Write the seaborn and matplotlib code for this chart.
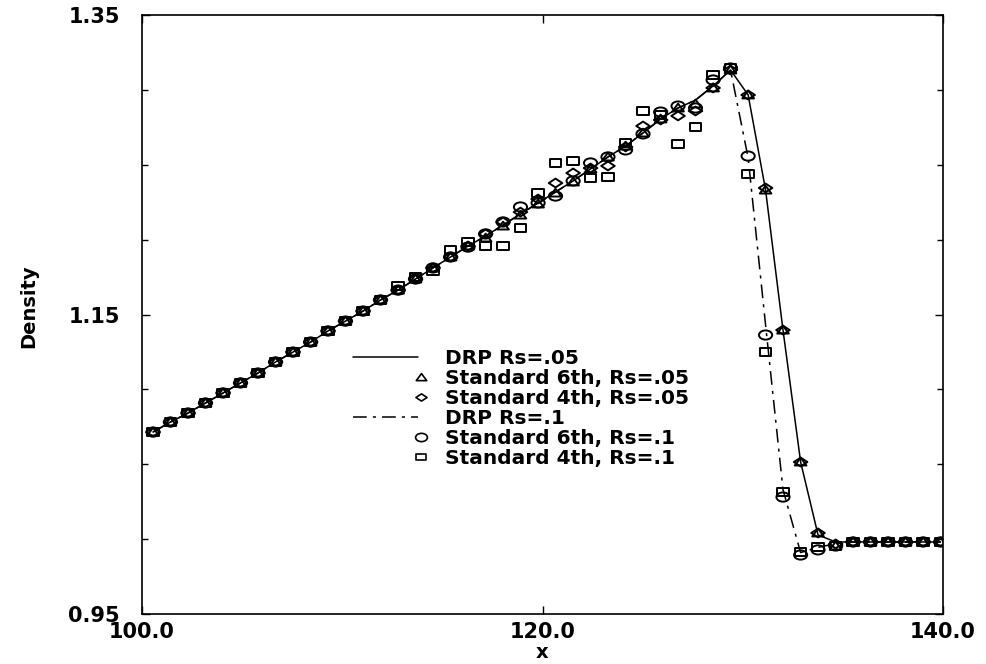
import numpy as np
import pandas as pd
import matplotlib
matplotlib.use("Agg")
import matplotlib.pyplot as plt
import seaborn as sns
from matplotlib.path import Path
from matplotlib.lines import Line2D
from matplotlib.legend_handler import HandlerLine2D
from matplotlib.ticker import FixedLocator, MultipleLocator, FormatStrFormatter

# ---- data -------------------------------------------------------------
x = [100.55, 101.42, 102.30, 103.17, 104.05, 104.92, 105.79, 106.67, 107.54, 108.42,
     109.29, 110.16, 111.04, 111.91, 112.79, 113.66, 114.53, 115.41, 116.28, 117.16,
     118.03, 118.90, 119.78, 120.65, 121.53, 122.40, 123.27, 124.15, 125.02, 125.90,
     126.77, 127.64, 128.52, 129.39, 130.27, 131.14, 132.01, 132.89, 133.76, 134.64,
     135.51, 136.38, 137.26, 138.13, 139.01, 139.88]

drp_rs05 = [1.0715, 1.0782, 1.0842, 1.0909, 1.0976, 1.1043, 1.1109, 1.1183, 1.1249, 1.1316,
            1.1390, 1.1456, 1.1523, 1.1597, 1.1663, 1.1737, 1.1811, 1.1884, 1.1957, 1.2024,
            1.2098, 1.2171, 1.2245, 1.2318, 1.2392, 1.2472, 1.2552, 1.2625, 1.2712, 1.2806,
            1.2879, 1.2932, 1.3026, 1.3133, 1.2966, 1.2331, 1.1396, 1.0515, 1.0028, 0.9981,
            0.9981, 0.9981, 0.9981, 0.9981, 0.9981, 0.9981]

std6_rs05 = [1.0715, 1.0782, 1.0842, 1.0909, 1.0976, 1.1043, 1.1109, 1.1183, 1.1249, 1.1316,
             1.1390, 1.1456, 1.1523, 1.1597, 1.1663, 1.1737, 1.1811, 1.1884, 1.1957, 1.2011,
             1.2091, 1.2164, 1.2238, 1.2311, 1.2385, 1.2472, 1.2552, 1.2625, 1.2712, 1.2806,
             1.2879, 1.2906, 1.3013, 1.3133, 1.2966, 1.2331, 1.1396, 1.0515, 1.0041, 0.9954,
             0.9981, 0.9981, 0.9981, 0.9981, 0.9981, 0.9981]

std4_rs05 = [1.0715, 1.0782, 1.0842, 1.0909, 1.0976, 1.1043, 1.1109, 1.1183, 1.1249, 1.1316,
             1.1390, 1.1456, 1.1523, 1.1597, 1.1663, 1.1737, 1.1811, 1.1884, 1.1957, 1.2038,
             1.2118, 1.2184, 1.2271, 1.2378, 1.2445, 1.2478, 1.2492, 1.2619, 1.2759, 1.2799,
             1.2826, 1.2859, 1.3013, 1.3133, 1.2966, 1.2345, 1.1396, 1.0515, 1.0041, 0.9968,
             0.9981, 0.9981, 0.9981, 0.9981, 0.9981, 0.9981]

drp_rs1 = [1.0715, 1.0782, 1.0842, 1.0909, 1.0976, 1.1043, 1.1109, 1.1183, 1.1249, 1.1316,
           1.1390, 1.1456, 1.1523, 1.1597, 1.1663, 1.1737, 1.1811, 1.1884, 1.1957, 1.2024,
           1.2098, 1.2171, 1.2245, 1.2318, 1.2392, 1.2472, 1.2552, 1.2625, 1.2712, 1.2806,
           1.2879, 1.2932, 1.3026, 1.3133, 1.2545, 1.1430, 1.0330, 0.9910, 0.9945, 0.9970,
           0.9981, 0.9981, 0.9981, 0.9981, 0.9981, 0.9981]

std6_rs1 = [1.0715, 1.0782, 1.0842, 1.0909, 1.0976, 1.1043, 1.1109, 1.1183, 1.1249, 1.1316,
            1.1390, 1.1456, 1.1523, 1.1597, 1.1663, 1.1737, 1.1811, 1.1884, 1.1950, 1.2038,
            1.2118, 1.2218, 1.2245, 1.2291, 1.2392, 1.2512, 1.2552, 1.2599, 1.2706, 1.2852,
            1.2892, 1.2879, 1.3066, 1.3146, 1.2558, 1.1363, 1.0281, 0.9894, 0.9928, 0.9954,
            0.9981, 0.9981, 0.9981, 0.9981, 0.9981, 0.9981]

std4_rs1 = [1.0715, 1.0782, 1.0842, 1.0909, 1.0976, 1.1043, 1.1109, 1.1183, 1.1249, 1.1316,
            1.1390, 1.1456, 1.1523, 1.1597, 1.1690, 1.1750, 1.1790, 1.1931, 1.1984, 1.1957,
            1.1957, 1.2078, 1.2312, 1.2512, 1.2525, 1.2412, 1.2418, 1.2645, 1.2859, 1.2832,
            1.2639, 1.2752, 1.3099, 1.3146, 1.2438, 1.1250, 1.0315, 0.9914, 0.9948, 0.9954,
            0.9981, 0.9981, 0.9981, 0.9981, 0.9981, 0.9981]

labels = ["DRP Rs=.05", "Standard 6th, Rs=.05", "Standard 4th, Rs=.05",
          "DRP Rs=.1", "Standard 6th, Rs=.1", "Standard 4th, Rs=.1"]

x_ticks = [100.0, 120.0, 140.0]
y_ticks = [0.95, 1.15, 1.35]

df = pd.DataFrame({"x": x, "drp05": drp_rs05, "s6_05": std6_rs05, "s4_05": std4_rs05,
                   "drp1": drp_rs1, "s6_1": std6_rs1, "s4_1": std4_rs1})

# ---- style ------------------------------------------------------------
sns.set_theme(style="ticks")
plt.rcParams["font.family"] = ["DejaVu Sans"]
for key in ["axes.edgecolor", "xtick.color", "ytick.color", "text.color",
            "axes.labelcolor"]:
    plt.rcParams[key] = "black"


def polygon_marker(verts):
    """Closed polygon marker path."""
    v = np.asarray(verts, float)
    v = np.vstack([v, v[:1]])
    codes = [Path.MOVETO] + [Path.LINETO] * (len(v) - 2) + [Path.CLOSEPOLY]
    return Path(v, codes)


tri_m = polygon_marker([(-1, -0.6), (1, -0.6), (0, 0.75)])
dia_m = polygon_marker([(-1, 0), (0, 0.65), (1, 0), (0, -0.65)])
circ = Path.unit_circle()
circ_m = Path(circ.vertices * [1.0, 0.7], circ.codes)
sq_m = polygon_marker([(-1, -0.62), (1, -0.62), (1, 0.62), (-1, 0.62)])

dashdot = (0, (9, 4, 2, 4))

fig = plt.figure(figsize=(9.86, 6.64), dpi=100)
ax = fig.add_axes([142 / 986, 1 - 614 / 664, (943 - 142) / 986, (614 - 15) / 664])

# curves
sns.lineplot(data=df, x="x", y="drp05", color="black", lw=1.1, ax=ax, zorder=2)
sns.lineplot(data=df, x="x", y="drp1", color="black", lw=1.1, ax=ax, zorder=2,
             linestyle=dashdot)

# scheme results
mk = dict(facecolor="none", edgecolor="black", linewidths=1.4, zorder=3, ax=ax, legend=False)
sns.scatterplot(data=df, x="x", y="s6_05", marker=tri_m, s=70, **mk)
sns.scatterplot(data=df, x="x", y="s4_05", marker=dia_m, s=95, **mk)
sns.scatterplot(data=df, x="x", y="s6_1", marker=circ_m, s=90, **mk)
sns.scatterplot(data=df, x="x", y="s4_1", marker=sq_m, s=70, **mk)

# axes
ax.set_xlim(100, 140)
ax.set_ylim(0.95, 1.35)
ax.xaxis.set_major_locator(FixedLocator(x_ticks))
ax.xaxis.set_major_formatter(FormatStrFormatter("%.1f"))
ax.yaxis.set_major_locator(FixedLocator(y_ticks))
ax.yaxis.set_major_formatter(FormatStrFormatter("%.2f"))
ax.yaxis.set_minor_locator(MultipleLocator(0.05))
ax.tick_params(axis="both", which="both", direction="in", top=True, right=True,
               labelsize=15, width=1.0)
ax.tick_params(axis="y", which="major", length=6, pad=16)
ax.tick_params(axis="y", which="minor", length=4)
ax.tick_params(axis="x", which="major", length=6, pad=6)
for lab in ax.get_xticklabels() + ax.get_yticklabels():
    lab.set_fontweight("bold")
for sp in ax.spines.values():
    sp.set_linewidth(1.2)
    sp.set_color("black")

ax.set_xlabel("x", fontsize=14, fontweight="bold")
ax.set_ylabel("Density", fontsize=14, fontweight="bold")
ax.xaxis.set_label_coords(0.5, -0.048)
ax.yaxis.set_label_coords(-0.13, 0.514)


class RightMarker(HandlerLine2D):
    """Legend handler that draws a lone marker at the right end of the handle box."""

    def get_xdata(self, legend, xdescent, ydescent, width, height, fontsize):
        right = -xdescent + width + 2.0
        return np.array([right - 1.0, right + 1.0]), np.array([right])


lk = dict(ls="none", mfc="none", mec="black", mew=1.2)
handles = [
    Line2D([], [], color="black", lw=1.1),
    Line2D([], [], marker=tri_m, markersize=7.5, **lk),
    Line2D([], [], marker=dia_m, markersize=8, **lk),
    Line2D([], [], color="black", lw=1.1, ls=dashdot),
    Line2D([], [], marker=circ_m, markersize=8.5, **lk),
    Line2D([], [], marker=sq_m, markersize=7.5, **lk),
]
marker_handler = {h: RightMarker(numpoints=1) for i, h in enumerate(handles) if i not in (0, 3)}
leg = ax.legend(handles, labels, loc="upper left", bbox_to_anchor=(0.263, 0.442),
                frameon=False, borderpad=0, borderaxespad=0,
                handlelength=3.25, handletextpad=1.35, labelspacing=0.05,
                prop=dict(size=14.5, weight="bold"),
                handler_map=marker_handler)

fig.savefig("out.png", dpi=100, facecolor="white")
